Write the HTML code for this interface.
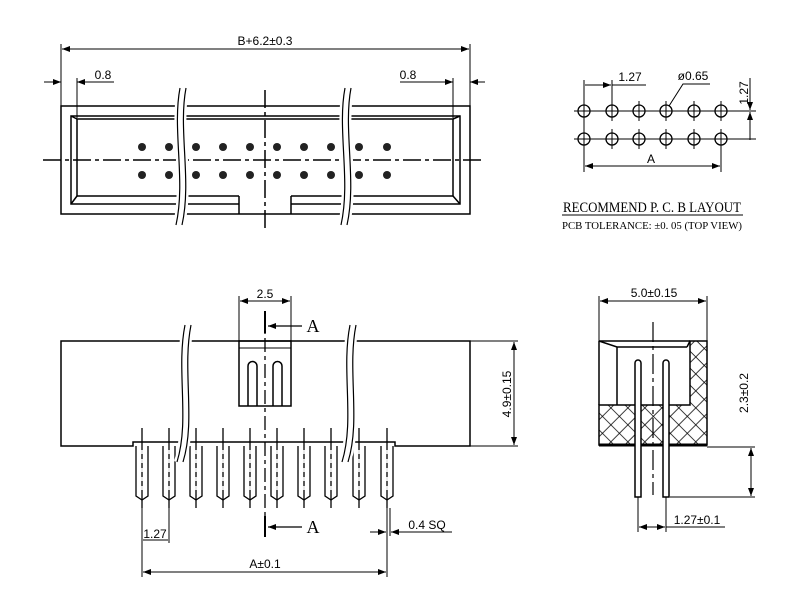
<!DOCTYPE html>
<html><head><style>body{margin:0;background:#fff}svg{display:block}</style></head><body>
<svg width="800" height="598" viewBox="0 0 800 598" xmlns="http://www.w3.org/2000/svg" font-family="Liberation Sans, sans-serif">
<defs>
<marker id="ar" markerWidth="8" markerHeight="6" refX="8" refY="3" orient="auto-start-reverse" markerUnits="userSpaceOnUse"><path d="M0,0 L8,3 L0,6 z" fill="#000"/></marker>
<pattern id="hx" width="12" height="12" patternUnits="userSpaceOnUse" patternTransform="rotate(45)"><rect width="12" height="12" fill="#fff"/><path d="M0,0 H12 M0,0 V12" stroke="#000" stroke-width="1.5"/></pattern>
</defs>
<g stroke="#000" stroke-width="1.5" fill="none">
<!-- TOP VIEW -->
<rect x="61" y="106" width="409" height="108"/>
<path d="M239,204 H71 V116 H460 V204 H291"/>
<path d="M239,196 H77 V119 H453 V196 H291"/>
<path d="M71,116 L77,119 M460,116 L453,119 M71,204 L77,196 M460,204 L453,196"/>
<path d="M239,196 V214 M291,196 V214"/>
<path d="M61,106 V44 M470,106 V44" stroke-width="1"/>
<line x1="62" y1="49" x2="469" y2="49" stroke-width="1" marker-start="url(#ar)" marker-end="url(#ar)"/>
<path d="M77,118 V78 M453,118 V78" stroke-width="1"/>
<line x1="44" y1="82" x2="61" y2="82" stroke-width="1" marker-end="url(#ar)"/>
<line x1="114" y1="82" x2="77" y2="82" stroke-width="1" marker-end="url(#ar)"/>
<line x1="400" y1="82" x2="453" y2="82" stroke-width="1" marker-end="url(#ar)"/>
<line x1="485" y1="82" x2="470" y2="82" stroke-width="1" marker-end="url(#ar)"/>
<line x1="43" y1="160" x2="482" y2="160" stroke-dasharray="18,4,4,4" stroke-width="1.5"/>
<line x1="265" y1="90" x2="265" y2="232" stroke-dasharray="18,4,4,4" stroke-width="1.5"/>
<path d="M180,88 C172,130 186,180 176,225 M186,88 C178,130 192,180 182,225" stroke="#fff" stroke-width="6"/>
<path d="M180,88 C172,130 186,180 176,225 M186,88 C178,130 192,180 182,225" stroke-width="1.2"/>
<path d="M345,88 C337,130 351,180 341,225 M351,88 C343,130 357,180 347,225" stroke="#fff" stroke-width="6"/>
<path d="M345,88 C337,130 351,180 341,225 M351,88 C343,130 357,180 347,225" stroke-width="1.2"/>
</g>
<g fill="#222">
<g id="pr">
<circle cx="142" cy="147" r="4"/><circle cx="169" cy="147" r="4"/><circle cx="196" cy="147" r="4"/><circle cx="223" cy="147" r="4"/><circle cx="250" cy="147" r="4"/><circle cx="277" cy="147" r="4"/><circle cx="304" cy="147" r="4"/><circle cx="331" cy="147" r="4"/><circle cx="359" cy="147" r="4"/><circle cx="387" cy="147" r="4"/>
</g>
<use href="#pr" y="28"/>
</g>
<g font-size="12" fill="#000">
<text x="265" y="45" text-anchor="middle">B+6.2±0.3</text>
<text x="103" y="79" text-anchor="middle">0.8</text>
<text x="408" y="79" text-anchor="middle">0.8</text>
</g>

<!-- PCB LAYOUT -->
<g stroke="#000" stroke-width="1.3" fill="none">
<g id="hr">
<circle cx="584" cy="111" r="6"/><circle cx="612" cy="111" r="6"/><circle cx="639" cy="111" r="6"/><circle cx="666" cy="111" r="6"/><circle cx="694" cy="111" r="6"/><circle cx="721" cy="111" r="6"/>
<path d="M574,111 H731 M584,101 V121 M612,101 V121 M639,101 V121 M666,101 V121 M694,101 V121 M721,101 V121" stroke-width="1"/>
</g>
<use href="#hr" y="28"/>
<path d="M584,80 V172 M612,80 V105 M721,139 V172 M731,111 H756 M731,139 H756" stroke-width="1"/>
<line x1="585" y1="85" x2="611" y2="85" stroke-width="1" marker-end="url(#ar)"/>
<path d="M612,85 H646" stroke-width="1"/>
<line x1="585" y1="166" x2="720" y2="166" stroke-width="1" marker-start="url(#ar)" marker-end="url(#ar)"/>
<path d="M669,106 L683,84 H710" stroke-width="1"/>
<line x1="750" y1="78" x2="750" y2="110" stroke-width="1" marker-end="url(#ar)"/>
<line x1="750" y1="130" x2="750" y2="140" stroke-width="1"/>
<line x1="750" y1="130" x2="750" y2="112" stroke-width="1" marker-end="url(#ar)"/>
<line x1="562" y1="215" x2="743" y2="215" stroke-width="1"/>
</g>
<g fill="#000">
<text x="630" y="81" font-size="12" text-anchor="middle">1.27</text>
<text x="693" y="80" font-size="12" text-anchor="middle">ø0.65</text>
<text x="651" y="163" font-size="12" text-anchor="middle">A</text>
<text transform="translate(748,93) rotate(-90)" font-size="12" text-anchor="middle">1.27</text>
<text x="652" y="212" font-size="15" font-family="Liberation Serif, serif" text-anchor="middle" textLength="178" lengthAdjust="spacingAndGlyphs">RECOMMEND P. C. B LAYOUT</text>
<text x="652" y="229" font-size="10" font-family="Liberation Serif, serif" text-anchor="middle" textLength="180" lengthAdjust="spacingAndGlyphs">PCB TOLERANCE: ±0. 05 (TOP VIEW)</text>
</g>

<!-- FRONT VIEW -->
<g stroke="#000" stroke-width="1.5" fill="none">
<path d="M61,341 H470 V446 H395 V442 H133 V446 H61 Z"/>
<path d="M470,341 H518 M470,446 H518" stroke-width="1"/>
<line x1="514" y1="342" x2="514" y2="445" stroke-width="1" marker-start="url(#ar)" marker-end="url(#ar)"/>
<rect x="239" y="341" width="52" height="65"/>
<line x1="239" y1="348" x2="291" y2="348" stroke-width="1"/>
<path d="M248,406 V366 A4.5,4.5 0 0 1 257,366 V406 M273,406 V366 A4.5,4.5 0 0 1 282,366 V406"/>
<path d="M239,341 V296 M291,341 V296" stroke-width="1"/>
<line x1="240" y1="301" x2="290" y2="301" stroke-width="1" marker-start="url(#ar)" marker-end="url(#ar)"/>
<line x1="265" y1="312" x2="265" y2="530" stroke-dasharray="14,4,4,4" stroke-width="1.3"/>
<path d="M265,311 V333 M265,516 V537" stroke-width="2"/>
<line x1="302" y1="326" x2="268" y2="326" stroke-width="1.2" marker-end="url(#ar)"/>
<line x1="302" y1="527" x2="268" y2="527" stroke-width="1.2" marker-end="url(#ar)"/>
<g id="pin">
<path d="M136,446 V496 L142,500 L148,496 V446" stroke-width="1.3" fill="#fff"/>
<line x1="142" y1="428" x2="142" y2="508" stroke-width="1.3"/>
<line x1="142" y1="450" x2="142" y2="494" stroke="#fff" stroke-width="1.4" stroke-dasharray="4,5"/>
</g>
<use href="#pin" x="27"/><use href="#pin" x="54"/><use href="#pin" x="81"/><use href="#pin" x="108"/><use href="#pin" x="135"/><use href="#pin" x="162"/><use href="#pin" x="189"/><use href="#pin" x="217"/><use href="#pin" x="245"/>
<path d="M142,508 V577 M169,508 V543 M387,508 V577 M390,508 V536" stroke-width="1"/>
<line x1="143" y1="540" x2="168" y2="540" stroke-width="1"/>
<line x1="143" y1="572" x2="386" y2="572" stroke-width="1" marker-start="url(#ar)" marker-end="url(#ar)"/>
<line x1="370" y1="532" x2="386" y2="532" stroke-width="1" marker-end="url(#ar)"/>
<line x1="452" y1="532" x2="391" y2="532" stroke-width="1" marker-end="url(#ar)"/>
<path d="M185,325 C176,370 190,420 177,462 M191,325 C182,370 196,420 183,462" stroke="#fff" stroke-width="6"/>
<path d="M185,325 C176,370 190,420 177,462 M191,325 C182,370 196,420 183,462" stroke-width="1.2"/>
<path d="M350,325 C341,370 355,420 342,462 M356,325 C347,370 361,420 348,462" stroke="#fff" stroke-width="6"/>
<path d="M350,325 C341,370 355,420 342,462 M356,325 C347,370 361,420 348,462" stroke-width="1.2"/>
</g>
<g fill="#000" font-size="12">
<text x="265" y="298" text-anchor="middle">2.5</text>
<text x="313" y="332" font-size="18" font-family="Liberation Serif, serif" text-anchor="middle">A</text>
<text x="313" y="533" font-size="18" font-family="Liberation Serif, serif" text-anchor="middle">A</text>
<text transform="translate(511,394) rotate(-90)" text-anchor="middle">4.9±0.15</text>
<text x="155" y="538" text-anchor="middle">1.27</text>
<text x="265" y="568" text-anchor="middle">A±0.1</text>
<text x="427" y="529" text-anchor="middle">0.4 SQ</text>
</g>

<!-- SIDE VIEW -->
<g stroke="#000" stroke-width="1.5" fill="none">
<path d="M599,405 H690 V341 H707 V445 H599 Z" fill="url(#hx)"/>
<path d="M599,341 H690 M599,341 V405"/>
<path d="M599,341 L617,347 H687 M617,347 V405 M690,341 L687,347"/>
<line x1="599" y1="445" x2="707" y2="445" stroke-width="3"/>
<path d="M599,341 V296 M707,341 V296" stroke-width="1"/>
<line x1="600" y1="301" x2="706" y2="301" stroke-width="1" marker-start="url(#ar)" marker-end="url(#ar)"/>
<line x1="653" y1="322" x2="653" y2="495" stroke-dasharray="20,4,4,4" stroke-width="1.2"/>
<path d="M635,497 V363 A3,3 0 0 1 641,363 V497 Z M663,497 V363 A3,3 0 0 1 669,363 V497 Z" fill="#fff"/>
<path d="M707,447 H755 M670,497 H755" stroke-width="1"/>
<line x1="751" y1="448" x2="751" y2="496" stroke-width="1" marker-start="url(#ar)" marker-end="url(#ar)"/>
<path d="M638,497 V532 M666,497 V532" stroke-width="1"/>
<line x1="639" y1="527" x2="665" y2="527" stroke-width="1" marker-start="url(#ar)" marker-end="url(#ar)"/>
<path d="M666,527 H725" stroke-width="1"/>
</g>
<g fill="#000" font-size="12">
<text x="654" y="297" text-anchor="middle">5.0±0.15</text>
<text transform="translate(748,393) rotate(-90)" text-anchor="middle">2.3±0.2</text>
<text x="697" y="524" text-anchor="middle">1.27±0.1</text>
</g>
</svg>
</body></html>
